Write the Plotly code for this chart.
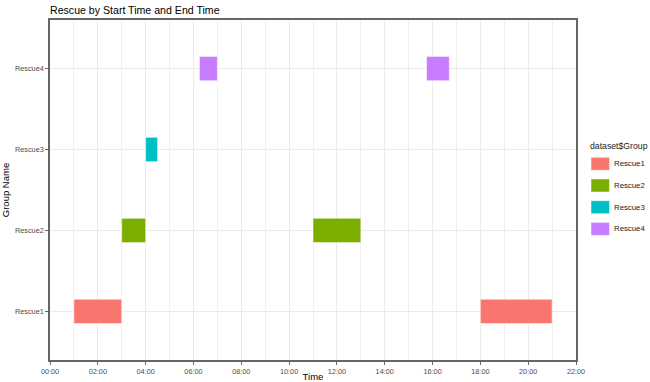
import plotly.graph_objects as go

groups = ["Rescue1", "Rescue2", "Rescue3", "Rescue4"]
colors = ["#F8766D", "#7CAE00", "#00BFC4", "#C77CFF"]
# start / end times in hours
task_group = ["Rescue1", "Rescue2", "Rescue3", "Rescue4", "Rescue2", "Rescue4", "Rescue1"]
start_h = [1.0, 3.0, 4.0, 6.25, 11.0, 15.75, 18.0]
end_h = [3.0, 4.0, 4.5, 7.0, 13.0, 16.7, 21.0]
tick_vals = list(range(0, 23, 2))
tick_text = ["%02d:00" % h for h in tick_vals]
legend_title = "dataset$Group"

# layout geometry (pixels)
W, H = 650, 382
ML, MR, MT, MB = 50, 74, 20, 22
PW, PH = W - ML - MR, H - MT - MB


def px_x(px):
    return (px - ML) / PW


def px_y(py):
    return (H - MB - py) / PH


fig = go.Figure()
for g, c in zip(groups, colors):
    idx = [i for i, tg in enumerate(task_group) if tg == g]
    fig.add_trace(go.Bar(
        y=[task_group[i] for i in idx],
        x=[end_h[i] - start_h[i] for i in idx],
        base=[start_h[i] for i in idx],
        orientation="h", width=0.3,
        marker=dict(color=c, line=dict(color="rgba(255,255,255,0.5)", width=1)),
        showlegend=False, name=g,
    ))

# manual ggplot-style legend
annotations = [dict(text=legend_title, xref="paper", yref="paper",
                    x=px_x(588), y=px_y(145.5), xanchor="left", yanchor="middle",
                    showarrow=False, font=dict(size=8.7, color="#1a1a1a"))]
shapes = []
for i, (g, c) in enumerate(zip(groups, colors)):
    cy = 163.8 + 21.7 * i
    shapes.append(dict(type="rect", xref="paper", yref="paper",
                       x0=px_x(591), x1=px_x(609.5), y0=px_y(cy - 6.5), y1=px_y(cy + 6.5),
                       fillcolor=c, line=dict(color="rgba(255,255,255,0.5)", width=1)))
    annotations.append(dict(text=g, xref="paper", yref="paper",
                            x=px_x(612), y=px_y(cy), xanchor="left", yanchor="middle",
                            showarrow=False, font=dict(size=7.8, color="#1a1a1a")))

fig.update_layout(
    width=W, height=H,
    autosize=False,
    barmode="overlay",
    showlegend=False,
    margin=dict(l=ML, r=MR, t=MT, b=MB),
    paper_bgcolor="white", plot_bgcolor="white",
    font=dict(family="Arial, Liberation Sans, sans-serif", color="#000000"),
    title=dict(text="Rescue by Start Time and End Time", x=50/650, xanchor="left",
               y=1-10/382, yanchor="middle", font=dict(size=10.6, color="#000000")),
    annotations=annotations,
    shapes=shapes,
    xaxis=dict(range=[0, 22], tickvals=tick_vals, ticktext=tick_text,
               automargin=False,
               showgrid=True, gridcolor="#ebebeb", gridwidth=1,
               minor=dict(dtick=1, showgrid=True, gridcolor="#f0f0f0", gridwidth=1),
               zeroline=False, showline=True, linecolor="#666666", linewidth=1.5,
               mirror=True, ticks="outside", ticklen=3, tickcolor="#666666",
               tickfont=dict(size=7.3, color="#4d4d4d"),
               title=dict(text="Time", font=dict(size=9.5), standoff=2)),
    yaxis=dict(type="category", categoryorder="array", categoryarray=groups,
               automargin=False,
               range=[-0.6, 3.6], showgrid=True, gridcolor="#ebebeb",
               zeroline=False, showline=True, linecolor="#666666", linewidth=1.5,
               mirror=True, ticks="outside", ticklen=3, tickcolor="#666666",
               tickfont=dict(size=7.3, color="#4d4d4d"),
               title=dict(text="Group Name", font=dict(size=9.5), standoff=6)),
)

fig.write_html(
    "out.html",
    config={"responsive": False, "displayModeBar": False},
    post_script="document.body.style.margin='0';document.body.style.overflow='hidden';",
)
